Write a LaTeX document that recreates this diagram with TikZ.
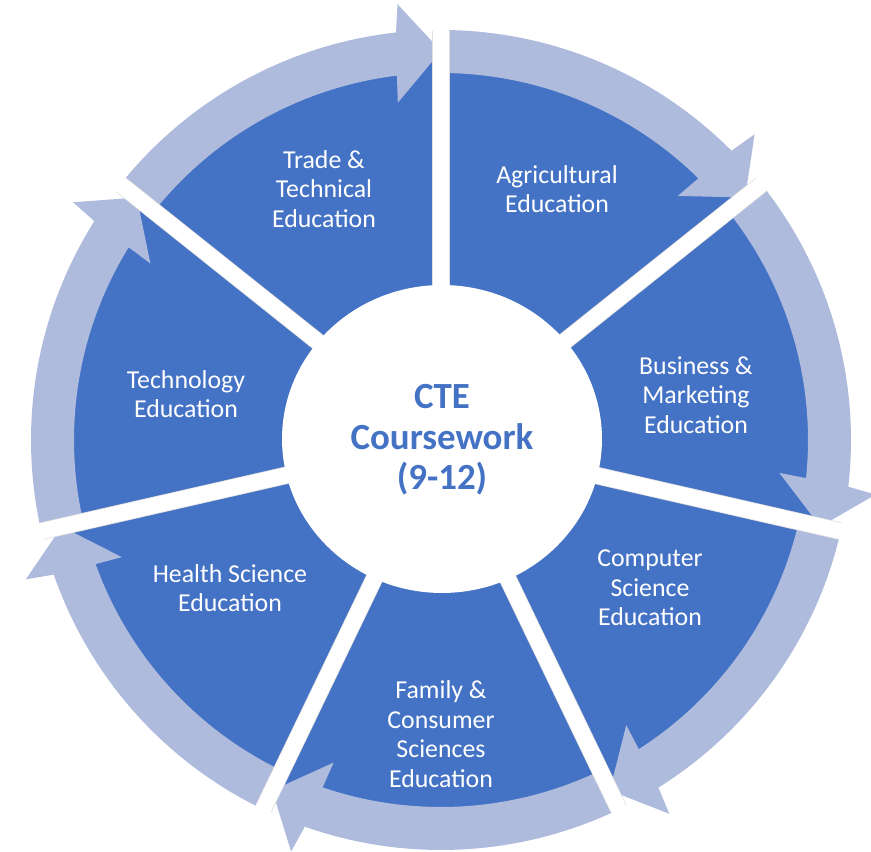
\documentclass[tikz,border=0pt]{standalone}
\usepackage{fontspec}
\setmainfont{Carlito}
\definecolor{segblue}{RGB}{68,114,196}
\definecolor{bandlight}{RGB}{175,187,221}
\tikzset{
  seg/.style={fill=segblue},
  band/.style={fill=bandlight},
  gapline/.style={white, line width=0.32cm},
  gapedge/.style={gray!25, line width=0.35cm},
  lbl/.style={text=white, align=center, font=\fontsize{14.7}{16.8}\selectfont},
  hub/.style={text=segblue, align=center, font=\bfseries\fontsize{21}{23}\selectfont}
}
\begin{document}
\begin{tikzpicture}[x=0.02cm,y=0.02cm]
\useasboundingbox (-441,-411) rectangle (430,440);
% blue sectors
\foreach \k in {0,...,6}{
  \pgfmathsetmacro\a{90-\k*360/7}
  \pgfmathsetmacro\b{\a-360/7}
  \fill[seg] (0,0) -- (\a:388) arc[start angle=\a, end angle=\b, radius=7.76cm] -- cycle;
}
% arrow bands
\foreach \k in {0,...,6}{
  \pgfmathsetmacro\a{90-\k*360/7}
  \pgfmathsetmacro\b{\a-360/7}
  \pgfmathsetmacro\bo{\b+6.3}
  \pgfmathsetmacro\bi{\b+6.9}
  \pgfmathsetmacro\bbo{\b+5.7}
  \pgfmathsetmacro\bbi{\b+7.3}
  \fill[band] (\a:410) arc[start angle=\a, end angle=\bo, radius=8.2cm]
     -- (\bbo:438) -- (\b:389) -- (\bbi:340) -- (\bi:367)
     arc[start angle=\bi, end angle=\a, radius=7.34cm] -- cycle;
}
% gaps
\foreach \k in {0,...,6}{
  \pgfmathsetmacro\g{90-\k*360/7}
  \coordinate (e\k) at (\g:409);
  \coordinate (g\k) at (\g:470);
  \draw[gapedge] (0,0) -- (e\k);
}
\foreach \k in {0,...,6}{
  \draw[gapline] (0,0) -- (g\k);
}
% hub
\fill[white] (1,1) ellipse [x radius=3.2cm, y radius=3.08cm];
\node[hub] (hub) at (1,0) {CTE\\Coursework\\(9-12)};
% labels
\node[lbl] (agri) at (116,251) {Agricultural\\Education};
\node[lbl] (bus) at (255,45) {Business \&\\Marketing\\Education};
\node[lbl] (comp) at (209,-148) {Computer\\Science\\Education};
\node[lbl] (fam) at (0,-294) {Family \&\\Consumer\\Sciences\\Education};
\node[lbl] (health) at (-211,-148) {Health Science\\Education};
\node[lbl] (tech) at (-255,46) {Technology\\Education};
\node[lbl] (trade) at (-117,251) {Trade \&\\Technical\\Education};
\end{tikzpicture}
\end{document}
